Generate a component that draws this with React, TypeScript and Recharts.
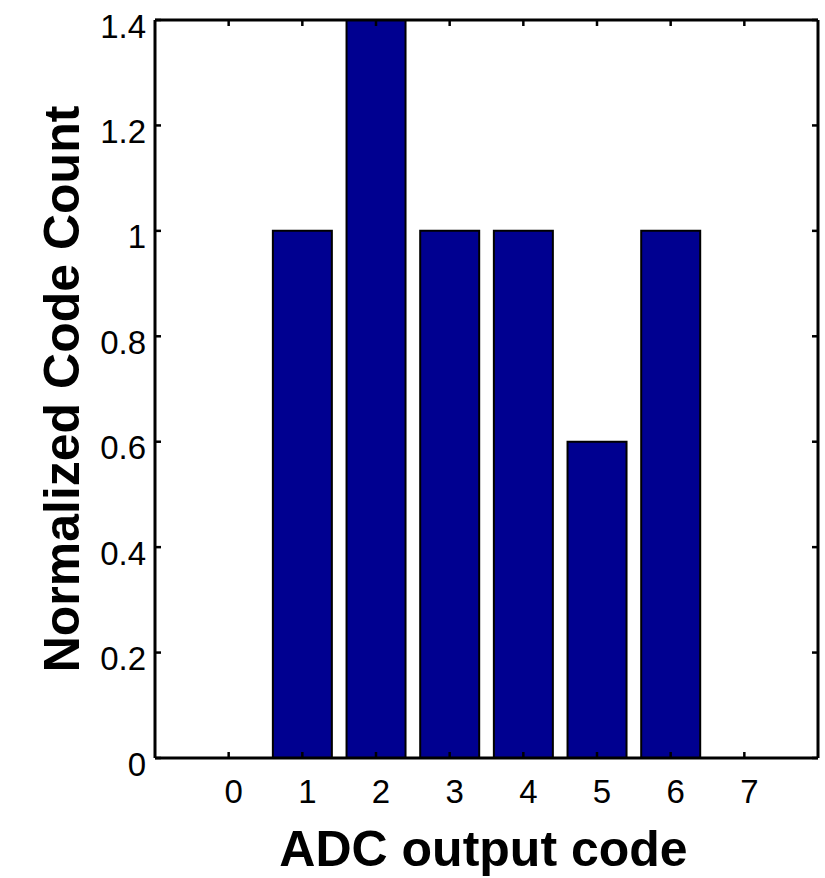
import React from 'react';
import { ComposedChart, Bar, Line, XAxis, YAxis, Label } from 'recharts';

// Histogram of ADC output codes, normalized to the ideal code count
const codes = [0, 1, 2, 3, 4, 5, 6, 7];
const counts = [0, 1, 1.4, 1, 1, 0.6, 1, 0];
const xTicks = [0, 1, 2, 3, 4, 5, 6, 7];
const yTicks = [0, 0.2, 0.4, 0.6, 0.8, 1, 1.2, 1.4];
const yTickLabels = ['0', '0.2', '0.4', '0.6', '0.8', '1', '1.2', '1.4'];
const xTitle = 'ADC output code';
const yTitle = 'Normalized Code Count';

const data = codes.map((code, i) => ({ code, count: counts[i] }));

const FONT = '"Liberation Sans", Arial, Helvetica, sans-serif';
const AXIS_LINE = { stroke: '#000', strokeWidth: 3 };
const TICK_LINE = { stroke: '#000', strokeWidth: 2.5 };

const XTick = (props: any) => {
  const { x, y, payload } = props;
  return (
    <text
      x={x + 5}
      y={y + 33}
      textAnchor="middle"
      dominantBaseline="central"
      fontFamily={FONT}
      fontSize={33}
      fill="#000"
    >
      {String(payload.value)}
    </text>
  );
};

const YTick = (props: any) => {
  const { x, y, payload } = props;
  const idx = yTicks.indexOf(payload.value);
  return (
    <text
      x={x - 9}
      y={y + 6}
      textAnchor="end"
      dominantBaseline="central"
      fontFamily={FONT}
      fontSize={33}
      fill="#000"
    >
      {idx >= 0 ? yTickLabels[idx] : String(payload.value)}
    </text>
  );
};

const NoTick = () => <g />;

const YTitle = (props: any) => {
  const vb = props.viewBox || {};
  const cx = 62;
  const cy = vb.y + vb.height / 2;
  return (
    <text
      x={cx}
      y={cy}
      transform={`rotate(-90, ${cx}, ${cy})`}
      textAnchor="middle"
      dominantBaseline="central"
      fontFamily={FONT}
      fontWeight="bold"
      fontSize={50}
      fill="#000"
    >
      {yTitle}
    </text>
  );
};

const XTitle = (props: any) => {
  const vb = props.viewBox || {};
  const cx = vb.x + vb.width / 2 - 3;
  const cy = vb.y + 91;
  return (
    <text
      x={cx}
      y={cy}
      textAnchor="middle"
      dominantBaseline="central"
      fontFamily={FONT}
      fontWeight="bold"
      fontSize={50}
      fill="#000"
    >
      {xTitle}
    </text>
  );
};

export default function App() {
  return (
    <div style={{ position: 'absolute', left: 0, top: 0, background: '#fff' }}>
      <ComposedChart
        width={825}
        height={878}
        data={data}
        margin={{ top: 19, right: 6, left: 0, bottom: 0 }}
        barCategoryGap="10%"
      >
        <XAxis
          dataKey="code"
          type="number"
          domain={[-1, 8]}
          allowDataOverflow
          ticks={xTicks}
          interval={0}
          height={120}
          stroke="#000"
          axisLine={AXIS_LINE}
          tickLine={TICK_LINE}
          tickSize={-6}
          tickMargin={6}
          tick={<XTick />}
        >
          <Label content={<XTitle />} />
        </XAxis>
        <XAxis
          xAxisId="top"
          dataKey="code"
          orientation="top"
          type="number"
          domain={[-1, 8]}
          allowDataOverflow
          ticks={xTicks}
          interval={0}
          height={1}
          stroke="#000"
          axisLine={AXIS_LINE}
          tickLine={TICK_LINE}
          tickSize={-6}
          tick={<NoTick />}
        />
        <YAxis
          type="number"
          domain={[0, 1.4]}
          allowDataOverflow
          ticks={yTicks}
          interval={0}
          width={155}
          stroke="#000"
          axisLine={AXIS_LINE}
          tickLine={TICK_LINE}
          tickSize={-6}
          tickMargin={6}
          tick={<YTick />}
        >
          <Label content={<YTitle />} />
        </YAxis>
        <YAxis
          yAxisId="right"
          orientation="right"
          type="number"
          domain={[0, 1.4]}
          allowDataOverflow
          ticks={yTicks}
          interval={0}
          width={1}
          stroke="#000"
          axisLine={AXIS_LINE}
          tickLine={TICK_LINE}
          tickSize={-6}
          tick={<NoTick />}
        />
        <Bar
          dataKey="count"
          fill="#000090"
          stroke="#000"
          strokeWidth={2}
          isAnimationActive={false}
        />
        {/* invisible series that binds the top and right frame axes */}
        <Line
          xAxisId="top"
          yAxisId="right"
          dataKey="count"
          stroke="none"
          dot={false}
          activeDot={false}
          legendType="none"
          isAnimationActive={false}
        />
      </ComposedChart>
    </div>
  );
}
